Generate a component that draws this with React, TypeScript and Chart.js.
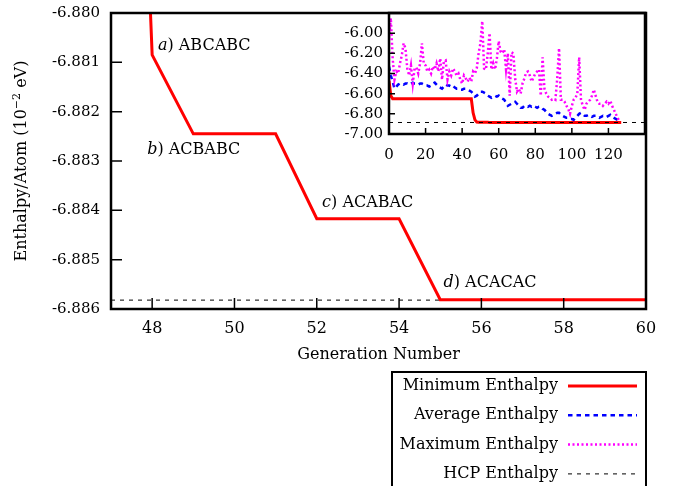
import React, { useEffect, useRef } from 'react';
import { Chart, registerables } from 'chart.js';

Chart.register(...registerables);

const FONT = '"DejaVu Serif", "Liberation Serif", serif';

// ---------- data ----------
const MAIN_X_TICKS = [48, 50, 52, 54, 56, 58, 60];
const MAIN_Y_TICKS = [-6.886, -6.885, -6.884, -6.883, -6.882, -6.881, -6.88];
const INSET_X_TICKS = [0, 20, 40, 60, 80, 100, 120];
const INSET_Y_TICKS = [-7.0, -6.8, -6.6, -6.4, -6.2, -6.0];

// minimum enthalpy: generations where the value changes, and the values
const MIN_GEN = [0, 1, 2, 45, 46, 47, 48, 49, 51, 52, 54, 55, 127];
const MIN_VAL = [-6.47, -6.62, -6.65, -6.65, -6.79, -6.86, -6.88085, -6.88245, -6.88245, -6.88417, -6.88417, -6.88581, -6.88581];

// average enthalpy, generation 0..126
const AVG_VAL = [
  -6.33, -6.42, -6.48, -6.55, -6.53, -6.51, -6.5, -6.5, -6.51, -6.5,
  -6.5, -6.51, -6.5, -6.49, -6.5, -6.5, -6.51, -6.5, -6.5, -6.51,
  -6.52, -6.52, -6.53, -6.52, -6.5, -6.49, -6.51, -6.53, -6.54, -6.55,
  -6.53, -6.51, -6.52, -6.52, -6.53, -6.52, -6.54, -6.55, -6.55, -6.56,
  -6.56, -6.55, -6.55, -6.56, -6.57, -6.58, -6.6, -6.63, -6.62, -6.6,
  -6.58, -6.58, -6.59, -6.6, -6.62, -6.63, -6.64, -6.63, -6.62, -6.63,
  -6.62, -6.64, -6.65, -6.66, -6.69, -6.72, -6.71, -6.7, -6.69, -6.68,
  -6.7, -6.72, -6.74, -6.74, -6.72, -6.72, -6.73, -6.72, -6.73, -6.72,
  -6.73, -6.74, -6.73, -6.73, -6.75, -6.76, -6.78, -6.8, -6.81, -6.82,
  -6.81, -6.8, -6.79, -6.79, -6.81, -6.82, -6.83, -6.84, -6.84, -6.85,
  -6.85, -6.86, -6.84, -6.82, -6.8, -6.79, -6.8, -6.82, -6.82, -6.81,
  -6.82, -6.83, -6.82, -6.82, -6.83, -6.84, -6.83, -6.82, -6.83, -6.83,
  -6.82, -6.81, -6.83, -6.84, -6.85, -6.86, -6.87,
];

// maximum enthalpy, generation 0..126
const MAX_VAL = [
  -6.05, -5.85, -6.25, -6.46, -6.38, -6.4, -6.3, -6.22, -6.1, -6.15,
  -6.35, -6.42, -6.32, -6.5, -6.35, -6.34, -6.4, -6.3, -6.1, -6.3,
  -6.32, -6.38, -6.36, -6.4, -6.33, -6.36, -6.3, -6.38, -6.25, -6.46,
  -6.28, -6.27, -6.46, -6.38, -6.42, -6.35, -6.38, -6.42, -6.4, -6.46,
  -6.5, -6.42, -6.45, -6.48, -6.44, -6.48, -6.38, -6.4, -6.35, -6.2,
  -6.1, -5.88, -6.35, -6.36, -6.2, -6.0, -6.36, -6.3, -6.36, -6.25,
  -6.08, -6.18, -6.2, -6.16, -6.36, -6.2, -6.62, -6.19, -6.2, -6.45,
  -6.58, -6.55, -6.6, -6.5, -6.45, -6.39, -6.38, -6.42, -6.48, -6.44,
  -6.4, -6.38, -6.36, -6.62, -6.24, -6.55, -6.6, -6.63, -6.64, -6.66,
  -6.65, -6.66, -6.45, -6.15, -6.66, -6.66, -6.68, -6.72, -6.75, -6.8,
  -6.72, -6.66, -6.64, -6.6, -6.24, -6.66, -6.72, -6.76, -6.7, -6.68,
  -6.66, -6.62, -6.56, -6.62, -6.68, -6.7, -6.7, -6.72, -6.7, -6.68,
  -6.7, -6.67, -6.72, -6.76, -6.8, -6.84, -6.87,
];

const HCP = -6.88582;

const SERIES_LABELS = ['Minimum Enthalpy', 'Average Enthalpy', 'Maximum Enthalpy', 'HCP Enthalpy'];

const ANNOT_PREFIX = ['a)', 'b)', 'c)', 'd)'];
const ANNOT_TEXT = ['ABCABC', 'ACBABC', 'ACABAC', 'ACACAC'];
const ANNOT_GEN = [48.14, 47.88, 52.13, 55.08];
const ANNOT_VAL = [-6.88067, -6.88278, -6.88385, -6.88547];

// ---------- styles ----------
const STYLES = [
  { color: '#ff0000', width: 3, dash: [] as number[] },
  { color: '#0000ff', width: 2.5, dash: [4.5, 4] },
  { color: '#ff00ff', width: 2.5, dash: [2, 2.5] },
  { color: '#000000', width: 1, dash: [4, 5] },
];

const MAIN_X = { min: 47, max: 60 };
const MAIN_Y = { min: -6.886, max: -6.88 };
const INSET_X = { min: 0, max: 140 };
const INSET_Y = { min: -7.0, max: -5.8 };

function lineDs(label: string, data: { x: number; y: number }[], s: typeof STYLES[number]) {
  return {
    label,
    data,
    borderColor: s.color,
    backgroundColor: s.color,
    borderWidth: s.width,
    borderDash: s.dash,
    pointRadius: 0,
    tension: 0,
    fill: false,
    borderCapStyle: 'butt' as const,
    borderJoinStyle: 'miter' as const,
  };
}

const minData = () => MIN_GEN.map((g, i) => ({ x: g, y: MIN_VAL[i] }));
const avgData = () => AVG_VAL.map((v, i) => ({ x: i, y: v }));
const maxData = () => MAX_VAL.map((v, i) => ({ x: i, y: v }));

// ---------- plugins ----------
const framePlugin = {
  id: 'frame',
  afterDraw(chart: any, _args: any, opts: any) {
    const { ctx, chartArea: a } = chart;
    const xs = chart.scales.x;
    const ys = chart.scales.y;
    ctx.save();
    ctx.strokeStyle = '#000';
    ctx.setLineDash([]);
    ctx.lineWidth = 1.5;
    ctx.beginPath();
    xs.ticks.forEach((t: any) => {
      const px = xs.getPixelForValue(t.value);
      ctx.moveTo(px, a.bottom);
      ctx.lineTo(px, a.bottom - opts.tickLen);
    });
    ys.ticks.forEach((t: any) => {
      const py = ys.getPixelForValue(t.value);
      ctx.moveTo(a.left, py);
      ctx.lineTo(a.left + opts.tickLen, py);
    });
    ctx.stroke();
    ctx.lineWidth = opts.border;
    ctx.strokeRect(a.left, a.top, a.right - a.left, a.bottom - a.top);
    ctx.restore();
  },
};

const mainTextPlugin = {
  id: 'mainText',
  afterDraw(chart: any) {
    const { ctx, chartArea: a } = chart;
    const xs = chart.scales.x;
    const ys = chart.scales.y;
    ctx.save();
    ctx.fillStyle = '#000';
    // annotations
    ANNOT_TEXT.forEach((txt, i) => {
      const px = xs.getPixelForValue(ANNOT_GEN[i]);
      const py = ys.getPixelForValue(ANNOT_VAL[i]);
      ctx.textBaseline = 'middle';
      ctx.textAlign = 'left';
      ctx.font = `italic 16px ${FONT}`;
      ctx.fillText(ANNOT_PREFIX[i][0], px, py);
      const w1 = ctx.measureText(ANNOT_PREFIX[i][0]).width;
      ctx.font = `16px ${FONT}`;
      ctx.fillText(ANNOT_PREFIX[i].slice(1) + ' ' + txt, px + w1, py);
    });
    // x title
    ctx.font = `16px ${FONT}`;
    ctx.textAlign = 'center';
    ctx.textBaseline = 'middle';
    ctx.fillText('Generation Number', (a.left + a.right) / 2, a.bottom + 46);
    // y title with superscript
    ctx.save();
    ctx.translate(22, (a.top + a.bottom) / 2);
    ctx.rotate(-Math.PI / 2);
    const p1 = 'Enthalpy/Atom (10';
    const sup = '\u22122';
    const p2 = ' eV)';
    ctx.font = `16px ${FONT}`;
    const w1 = ctx.measureText(p1).width;
    const w3 = ctx.measureText(p2).width;
    ctx.font = `11px ${FONT}`;
    const w2 = ctx.measureText(sup).width;
    const total = w1 + w2 + w3;
    let x = -total / 2;
    ctx.textAlign = 'left';
    ctx.textBaseline = 'middle';
    ctx.font = `16px ${FONT}`;
    ctx.fillText(p1, x, 0);
    x += w1;
    ctx.font = `11px ${FONT}`;
    ctx.fillText(sup, x, -5);
    x += w2;
    ctx.font = `16px ${FONT}`;
    ctx.fillText(p2, x, 0);
    ctx.restore();

    // legend box
    const boxL = 392, boxT = 372, boxR = a.right, boxB = 492;
    ctx.lineWidth = 2;
    ctx.strokeStyle = '#000';
    ctx.strokeRect(boxL, boxT, boxR - boxL, boxB - boxT);
    SERIES_LABELS.forEach((lab, i) => {
      const y = 386 + i * 29.3;
      ctx.font = `16px ${FONT}`;
      ctx.textAlign = 'right';
      ctx.textBaseline = 'middle';
      ctx.fillStyle = '#000';
      ctx.fillText(lab, 558, y);
      const s = STYLES[i];
      ctx.strokeStyle = s.color;
      ctx.lineWidth = s.width;
      ctx.setLineDash(s.dash);
      ctx.beginPath();
      ctx.moveTo(568, y);
      ctx.lineTo(637, y);
      ctx.stroke();
    });
    ctx.setLineDash([]);
    ctx.restore();
  },
};

function axisCfg(ticks: number[], range: { min: number; max: number }, decimals: number, pad: number, size: number, fitKey: 'width' | 'height', fitVal: number) {
  return {
    type: 'linear' as const,
    min: range.min,
    max: range.max,
    grid: { display: false, drawTicks: false },
    border: { display: false },
    afterBuildTicks: (scale: any) => {
      scale.ticks = ticks.map((v) => ({ value: v }));
    },
    afterFit: (scale: any) => {
      scale[fitKey] = fitVal;
      scale.paddingTop = 0;
      scale.paddingBottom = 0;
      scale.paddingLeft = 0;
      scale.paddingRight = 0;
    },
    ticks: {
      padding: pad,
      color: '#000',
      font: { family: FONT, size },
      maxRotation: 0,
      autoSkip: false,
      callback: (v: any) => Number(v).toFixed(decimals),
    },
  };
}

export default function App() {
  const mainRef = useRef<HTMLCanvasElement>(null);
  const insetRef = useRef<HTMLCanvasElement>(null);

  useEffect(() => {
    const main = new Chart(mainRef.current!, {
      type: 'line',
      data: {
        datasets: [
          lineDs(SERIES_LABELS[0], minData(), STYLES[0]),
          lineDs(SERIES_LABELS[3], [{ x: MAIN_X.min, y: HCP }, { x: MAIN_X.max, y: HCP }], STYLES[3]),
        ],
      },
      options: {
        responsive: false,
        animation: false,
        events: [],
        layout: { padding: { left: 0, top: 13, right: 28, bottom: 0 } },
        plugins: {
          legend: { display: false },
          tooltip: { enabled: false },
          frame: { tickLen: 11, border: 2.5 },
        } as any,
        scales: {
          x: axisCfg(MAIN_X_TICKS, MAIN_X, 0, 10, 16, 'height', 177),
          y: axisCfg(MAIN_Y_TICKS, MAIN_Y, 3, 11, 15, 'width', 111),
        },
      },
      plugins: [framePlugin, mainTextPlugin],
    });

    const inset = new Chart(insetRef.current!, {
      type: 'line',
      data: {
        datasets: [
          lineDs(SERIES_LABELS[3], [{ x: INSET_X.min, y: HCP }, { x: INSET_X.max, y: HCP }], STYLES[3]),
          lineDs(SERIES_LABELS[2], maxData(), STYLES[2]),
          lineDs(SERIES_LABELS[1], avgData(), STYLES[1]),
          lineDs(SERIES_LABELS[0], minData(), STYLES[0]),
        ],
      },
      options: {
        responsive: false,
        animation: false,
        events: [],
        layout: { padding: { left: 0, top: 13, right: 29, bottom: 0 } },
        plugins: {
          legend: { display: false },
          tooltip: { enabled: false },
          frame: { tickLen: 6, border: 2.5 },
        } as any,
        scales: {
          x: axisCfg(INSET_X_TICKS, INSET_X, 0, 12, 15, 'height', 36),
          y: axisCfg(INSET_Y_TICKS, INSET_Y, 2, 6, 15, 'width', 69),
        },
      },
      plugins: [framePlugin],
    });

    return () => {
      main.destroy();
      inset.destroy();
    };
  }, []);

  return (
    <div style={{ position: 'fixed', left: 0, top: 0, width: 674, height: 486, background: '#fff', overflow: 'hidden' }}>
      <canvas ref={mainRef} width={674} height={486} style={{ position: 'absolute', left: 0, top: 0 }} />
      <canvas ref={insetRef} width={354} height={170} style={{ position: 'absolute', left: 320, top: 0 }} />
    </div>
  );
}
